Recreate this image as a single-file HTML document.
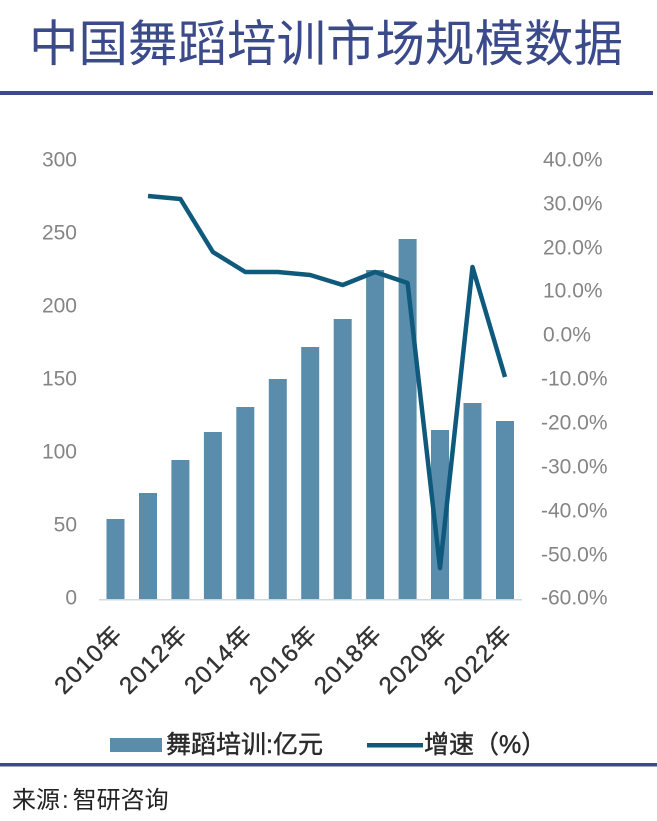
<!DOCTYPE html>
<html>
<head>
<meta charset="utf-8">
<style>
  html, body { margin: 0; padding: 0; background: #ffffff; }
  body { width: 657px; height: 821px; overflow: hidden; }
  svg { display: block; }
</style>
</head>
<body>
<svg width="657" height="821" viewBox="0 0 657 821" xmlns="http://www.w3.org/2000/svg">
  <rect width="657" height="821" fill="#ffffff"/>

  <!-- Title -->
  <text x="29" y="61" font-family="'Liberation Sans','Noto Sans CJK SC',sans-serif" font-size="49.5" fill="#3b4a8a">中国舞蹈培训市场规模数据</text>
  <rect x="0" y="91" width="653" height="4" fill="#3b4a8a"/>

  <!-- Left axis labels -->
  <g font-family="'Liberation Sans',sans-serif" font-size="21" fill="#858585" text-anchor="end" dominant-baseline="central">
    <text x="77" y="160">300</text>
    <text x="77" y="233">250</text>
    <text x="77" y="306">200</text>
    <text x="77" y="379">150</text>
    <text x="77" y="452">100</text>
    <text x="77" y="525">50</text>
    <text x="77" y="598">0</text>
  </g>

  <!-- Right axis labels -->
  <g font-family="'Liberation Sans',sans-serif" font-size="21" fill="#858585" text-anchor="start" dominant-baseline="central">
    <text x="543" y="160">40.0%</text>
    <text x="543" y="204">30.0%</text>
    <text x="543" y="248">20.0%</text>
    <text x="543" y="291">10.0%</text>
    <text x="543" y="335">0.0%</text>
    <text x="541" y="379">-10.0%</text>
    <text x="541" y="423">-20.0%</text>
    <text x="541" y="467">-30.0%</text>
    <text x="541" y="511">-40.0%</text>
    <text x="541" y="555">-50.0%</text>
    <text x="541" y="598">-60.0%</text>
  </g>

  <!-- Bars -->
  <g fill="#5a8dab">
    <rect x="106.5" y="519" width="18" height="80"/>
    <rect x="139" y="493" width="18" height="106"/>
    <rect x="171.4" y="460" width="18" height="139"/>
    <rect x="203.9" y="432" width="18" height="167"/>
    <rect x="236.3" y="407" width="18" height="192"/>
    <rect x="268.8" y="379" width="18" height="220"/>
    <rect x="301.2" y="347" width="18" height="252"/>
    <rect x="333.7" y="319" width="18" height="280"/>
    <rect x="366.1" y="270" width="18" height="329"/>
    <rect x="398.6" y="239" width="18" height="360"/>
    <rect x="431" y="430" width="18" height="169"/>
    <rect x="463.5" y="403" width="18" height="196"/>
    <rect x="496" y="421" width="18" height="178"/>
  </g>

  <!-- Axis line -->
  <rect x="99" y="599" width="423" height="1.5" fill="#cdd8e0"/>

  <!-- Growth line -->
  <polyline fill="none" stroke="#0f5a7c" stroke-width="4.5" stroke-linejoin="round" stroke-linecap="butt"
    points="148,196 180.4,199 212.9,252 245.3,272 277.8,272 310.2,275 342.7,285 375.1,272 407.6,283 440,568 472.5,267 505,377"/>

  <!-- X labels -->
  <g font-family="'Liberation Sans','Noto Sans CJK SC',sans-serif" font-size="24" letter-spacing="1.5" fill="#333333" stroke="#333333" stroke-width="0.4" text-anchor="end" dominant-baseline="central">
    <text transform="translate(119,630) rotate(-45)">2010年</text>
    <text transform="translate(183.9,630) rotate(-45)">2012年</text>
    <text transform="translate(248.8,630) rotate(-45)">2014年</text>
    <text transform="translate(313.7,630) rotate(-45)">2016年</text>
    <text transform="translate(378.6,630) rotate(-45)">2018年</text>
    <text transform="translate(443.5,630) rotate(-45)">2020年</text>
    <text transform="translate(508.5,630) rotate(-45)">2022年</text>
  </g>

  <!-- Legend -->
  <rect x="110" y="738" width="52" height="14" fill="#5a8dab"/>
  <text x="166" y="753" font-family="'Liberation Sans','Noto Sans CJK SC',sans-serif" font-size="25" fill="#2a2a2a" stroke="#2a2a2a" stroke-width="0.45">舞蹈培训:亿元</text>
  <rect x="367" y="743" width="56" height="4.5" fill="#0f5a7c"/>
  <text x="424" y="753" font-family="'Liberation Sans','Noto Sans CJK SC',sans-serif" font-size="25" fill="#2a2a2a" stroke="#2a2a2a" stroke-width="0.45">增速（%）</text>

  <!-- Bottom rule -->
  <rect x="0" y="763" width="657" height="3.5" fill="#3b4a8a"/>

  <!-- Source -->
  <text x="12" y="808" font-family="'Liberation Sans','Noto Sans CJK SC',sans-serif" font-size="24" fill="#222222">来源<tspan dx="2">:</tspan><tspan dx="4">智研咨询</tspan></text>
</svg>
</body>
</html>
